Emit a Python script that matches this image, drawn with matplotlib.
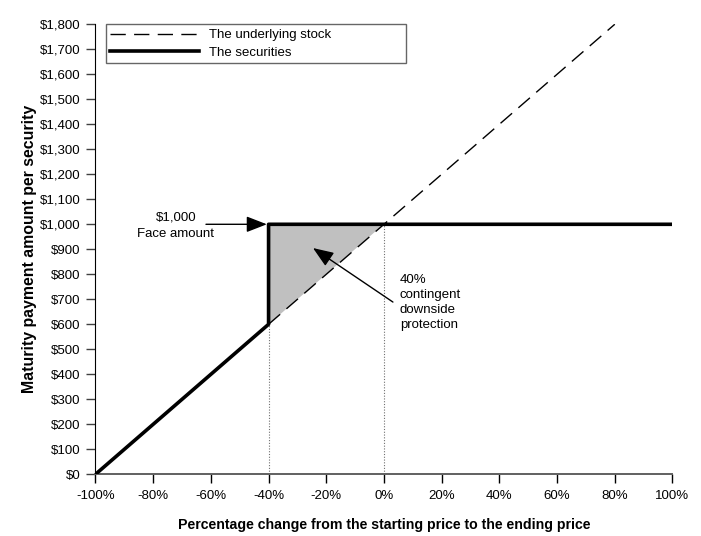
import numpy as np
import matplotlib.pyplot as plt
from matplotlib.ticker import FuncFormatter

plt.rcParams['font.family'] = ['Liberation Sans', 'DejaVu Sans']

# payoff data
stock_x = [-40, 80]
stock_y = [600, 1800]
sec_x = [-100, -40, -40, 100]
sec_y = [0, 600, 1000, 1000]
shade_x = [-40, -40, 0]
shade_y = [600, 1000, 1000]
barrier = -40
face = 1000

fig = plt.figure(figsize=(7.01, 5.36), dpi=100)
ax = fig.add_axes([0.1362, 0.1151, 0.8231, 0.8396])

ax.fill(shade_x, shade_y, color='#c0c0c0', lw=0, zorder=1)
ax.plot(stock_x, stock_y, color='black', lw=1, dashes=(11, 6), zorder=2,
        label='The underlying stock')
ax.plot(sec_x, sec_y, color='black', lw=2.6, zorder=3, label='The securities')

# dotted guides
ax.plot([barrier, barrier], [0, 600], color='#707070', lw=0.8, ls=(0, (1, 1.5)), zorder=1)
ax.plot([0, 0], [0, face], color='#707070', lw=0.8, ls=(0, (1, 1.5)), zorder=1)

ax.set_xlim(-100, 100)
ax.set_ylim(0, 1800)
ax.set_xticks(np.arange(-100, 101, 20))
ax.set_yticks(np.arange(0, 1801, 100))
ax.xaxis.set_major_formatter(FuncFormatter(lambda v, p: f'{v:.0f}%'))
ax.yaxis.set_major_formatter(FuncFormatter(lambda v, p: f'${v:,.0f}'))
ax.tick_params(axis='both', labelsize=9.5, length=6.5, width=1)
ax.tick_params(axis='x', pad=5, color='black')
ax.tick_params(axis='y', pad=4, color='#404040')
ax.spines['top'].set_visible(False)
ax.spines['right'].set_visible(False)
ax.spines['left'].set_color('black')
ax.spines['bottom'].set_color('#606060')
ax.spines['bottom'].set_linewidth(1.4)

ax.set_xlabel('Percentage change from the starting price to the ending price',
              fontsize=10.2, fontweight='bold', labelpad=11)
ax.set_ylabel('Maturity payment amount per security', fontsize=11.4,
              fontweight='bold', labelpad=2)

ax.text(-72.1, 995, '$1,000\nFace amount', fontsize=9.5, ha='center',
        va='center', linespacing=1.45)
ax.annotate('', xy=(-40.6, face), xytext=(-61.7, face),
            arrowprops=dict(arrowstyle='-|>,head_length=0.9,head_width=0.35',
                            color='black', lw=1, mutation_scale=14,
                            shrinkA=0, shrinkB=0))
ax.annotate('', xy=(-24.6, 905), xytext=(3.1, 689),
            arrowprops=dict(arrowstyle='-|>,head_length=0.9,head_width=0.35',
                            color='black', lw=1, mutation_scale=14,
                            shrinkA=0, shrinkB=0))
ax.text(5.5, 800, '40%\ncontingent\ndownside\nprotection', fontsize=9.5,
        ha='left', va='top', linespacing=1.34)

leg = ax.legend(loc='upper left', bbox_to_anchor=(0.018, 1.0, 0.52, 0),
                mode='expand', fontsize=9.5, frameon=True, fancybox=False,
                edgecolor='#404040', handlelength=6.7, handletextpad=0.75,
                borderpad=0.35, labelspacing=0.4, borderaxespad=0)
leg.get_frame().set_linewidth(1)

fig.savefig('out.png', dpi=100)
